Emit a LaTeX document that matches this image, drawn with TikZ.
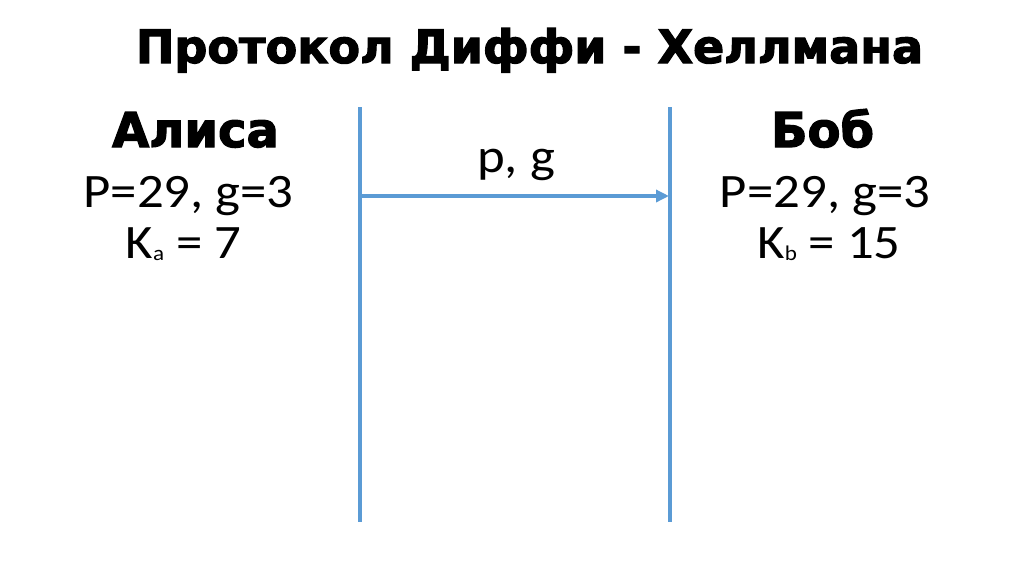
\documentclass[tikz,border=0pt]{standalone}
\usepackage{fontspec}
\setmainfont{Carlito}[FakeStretch=1.1]
\newfontfamily\headfont{DejaVu Sans}[FakeBold=2.5]
\usetikzlibrary{arrows.meta}
\definecolor{lineblue}{RGB}{91,155,213}

\begin{document}
\begin{tikzpicture}[x=1pt,y=-1pt,>={Triangle[length=13pt,width=12pt]},
	every node/.style={inner sep=0pt,anchor=base},
	head/.style={font=\headfont\bfseries\fontsize{48}{48}\selectfont},
	body/.style={font=\fontsize{48}{48}\selectfont}]

\useasboundingbox (0,0) rectangle (1024,574);

\def\xl{360}
\def\xr{670}
\def\ytop{107}
\def\ybot{522}
\def\ymsg{196}

\coordinate (LT) at (\xl,\ytop);
\coordinate (LB) at (\xl,\ybot);
\coordinate (RT) at (\xr,\ytop);
\coordinate (RB) at (\xr,\ybot);
\coordinate (LM) at (\xl,\ymsg);
\coordinate (RM) at (\xr-1,\ymsg);

\draw[color=lineblue,line width=3.5pt] (LT)--(LB);
\draw[color=lineblue,line width=3.5pt] (RT)--(RB);
\draw[->,color=lineblue,line width=3.5pt] (LM)--(RM);

\node[head,font=\headfont\bfseries\fontsize{46}{46}\selectfont] (title) at (529.5,63) {Протокол Диффи - Хеллмана};

\node[head] (alice) at (195.5,147) {Алиса};
\node[head] (bob) at (822.5,147) {Боб};

\node[body] (apg) at (188.5,207) {P=29, g=3};
\node[body] (ak) at (183.5,258) {K{\fontsize{21}{21}\selectfont\raisebox{-2pt}{a}} = 7};

\node[body] (bpg) at (825,207) {P=29, g=3};
\node[body] (bk) at (829,258) {K{\fontsize{21}{21}\selectfont\raisebox{-2pt}{b}} = 15};

\node[body] (msg) at (516,172) {p, g};

\end{tikzpicture}
\end{document}
